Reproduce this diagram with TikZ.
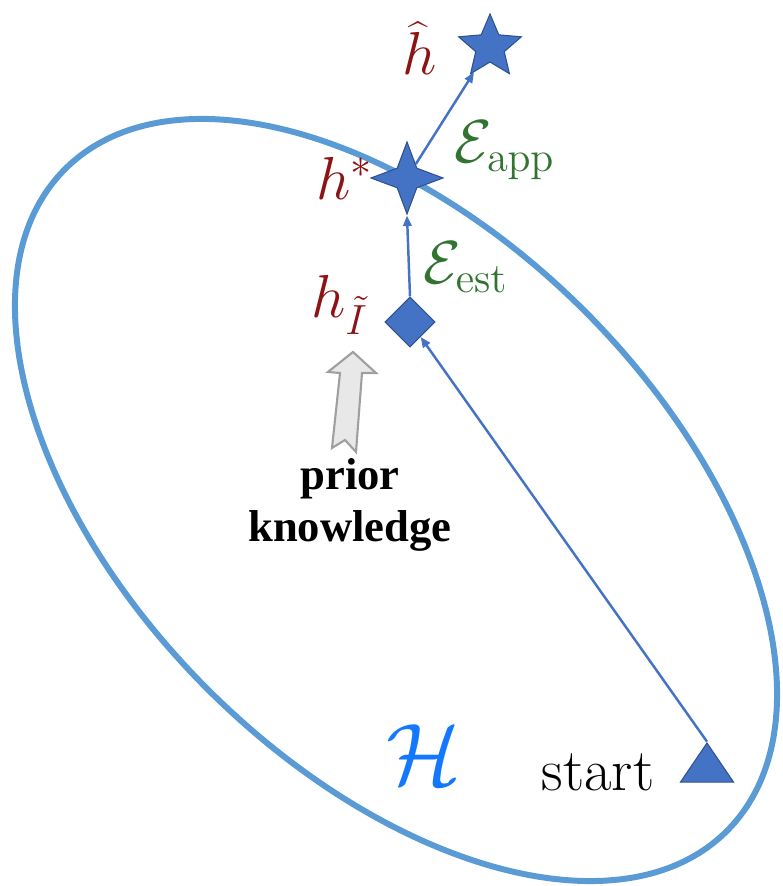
\documentclass[tikz,border=0pt]{standalone}
\usepackage[no-math]{fontspec}
\newfontfamily\priorfont{Liberation Serif}
\usetikzlibrary{arrows.meta, positioning, shapes.geometric}

\definecolor{spaceblue}{RGB}{91,155,213}
\definecolor{markerblue}{RGB}{68,114,196}
\definecolor{markerline}{RGB}{47,82,143}
\definecolor{hypred}{RGB}{140,20,20}
\definecolor{errgreen}{RGB}{50,115,50}
\definecolor{setblue}{RGB}{20,120,255}

\begin{document}
\begin{tikzpicture}[
    space/.style={draw=spaceblue, line width=1.7pt},
    marker/.style={draw=markerline, fill=markerblue, inner sep=0pt, line width=0.3pt},
    hyp/.style={color=hypred, font=\fontsize{17}{20}\selectfont},
    err/.style={color=errgreen, font=\fontsize{17}{20}\selectfont},
    arr/.style={-{Triangle[length=3pt, width=2.4pt]}, line width=0.7pt, color=markerblue},
    priorarrow/.style={draw=gray!75, fill=gray!18, line width=0.6pt}
]
    \useasboundingbox (0,0) rectangle (7.83,8.86);

    % hypothesis space
    \draw[space, rotate around={-45:(3.96,3.86)}] (3.96,3.86) ellipse [x radius=4.68cm, y radius=2.67cm];

    % Markers
    \node[marker, star, star points=5, star point ratio=2.2, minimum size=0.66cm] (hhat) at (4.90, 8.39) {};
    \node[marker, star, star points=4, star point ratio=2.6, minimum size=0.72cm] (hstar) at (4.07, 7.08) {};
    \node[marker, diamond, minimum width=0.5cm, minimum height=0.5cm] (hI) at (4.10, 5.64) {};
    \node[marker, isosceles triangle, isosceles triangle stretches, shape border rotate=90,
          minimum width=0.53cm, minimum height=0.39cm] (start) at (7.07, 1.18) {};

    % Labels
    \node[hyp] (hhatlabel) at (4.20, 8.38) {$\widehat{h}$};
    \node[hyp] (hstarlabel) at (3.45, 7.08) {$h^{*}$};
    \node[hyp] (hIlabel) at (3.40, 5.81) {$h_{\tilde{I}}$};
    \node[err] (eapp) at (5.05, 7.36) {$\mathcal{E}_{\mathrm{app}}$};
    \node[err] (eest) at (4.66, 6.19) {$\mathcal{E}_{\mathrm{est}}$};
    \node[color=setblue, font=\fontsize{27}{30}\selectfont] (H) at (4.24, 1.31) {$\mathcal{H}$};
    \node[font=\fontsize{17}{20}\selectfont] (startlabel) at (5.98, 1.14) {start};
    \node[align=center, font=\priorfont\bfseries\fontsize{12.7}{15}\selectfont] (prior) at (3.50, 3.81) {prior\\knowledge};

    % Arrows
    \draw[arr] (start.apex) -- (hI);
    \draw[arr] (hI.north) -- (hstar.south);
    \draw[arr] (hstar) -- (hhat);

    % prior knowledge block arrow
    \draw[priorarrow] (3.53,5.34) -- (3.76,5.13) -- (3.62,5.13) -- (3.56,4.34) -- (3.45,4.46)
        -- (3.32,4.38) -- (3.40,5.13) -- (3.28,5.14) -- cycle;
\end{tikzpicture}
\end{document}
